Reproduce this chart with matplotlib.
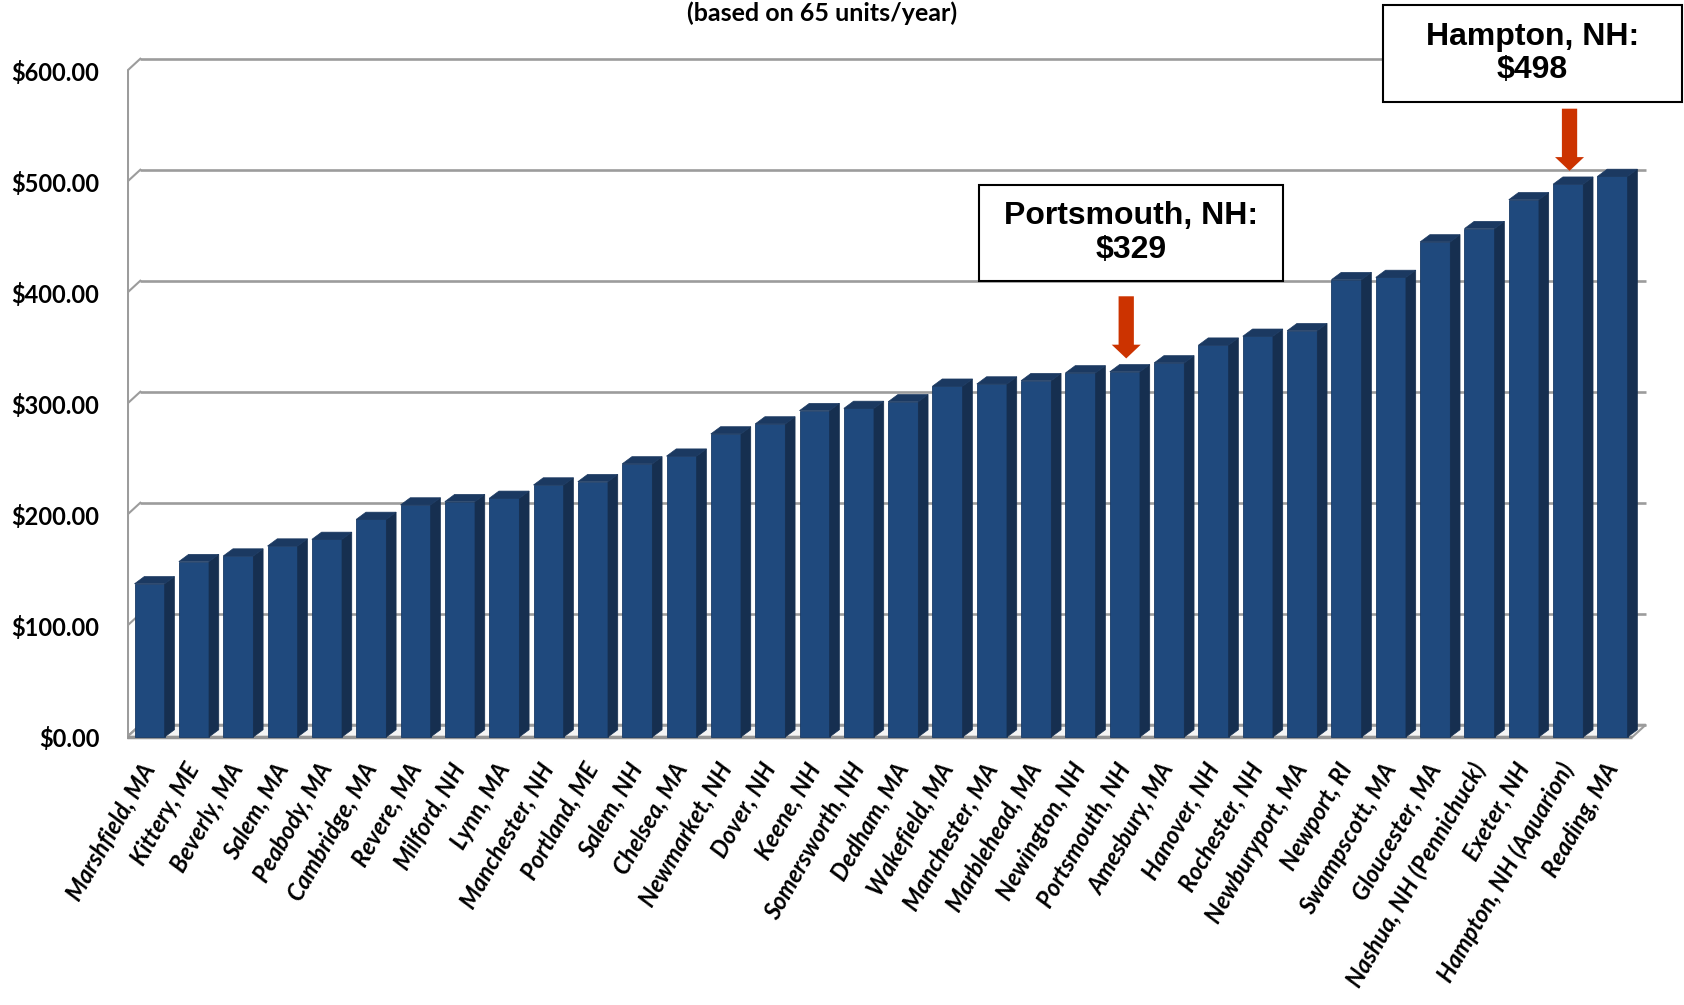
import matplotlib
matplotlib.use('Agg')
import matplotlib.pyplot as plt
from matplotlib.patches import Polygon, Rectangle

plt.rcParams['font.family'] = ['Lato', 'DejaVu Sans']

cities = ['Marshfield, MA', 'Kittery, ME', 'Beverly, MA', 'Salem, MA', 'Peabody, MA',
          'Cambridge, MA', 'Revere, MA', 'Milford, NH', 'Lynn, MA', 'Manchester, NH',
          'Portland, ME', 'Salem, NH', 'Chelsea, MA', 'Newmarket, NH', 'Dover, NH',
          'Keene, NH', 'Somersworth, NH', 'Dedham, MA', 'Wakefield, MA', 'Manchester, MA',
          'Marblehead, MA', 'Newington, NH', 'Portsmouth, NH', 'Amesbury, MA', 'Hanover, NH',
          'Rochester, NH', 'Newburyport, MA', 'Newport, RI', 'Swampscott, MA', 'Gloucester, MA',
          'Nashua, NH (Pennichuck)', 'Exeter, NH', 'Hampton, NH (Aquarion)', 'Reading, MA']
costs = [138, 158, 163, 172, 178, 196, 209, 212, 215, 227,
         230, 246, 253, 273, 282, 294, 296, 302, 316, 318,
         321, 328, 329, 337, 353, 361, 366, 412, 414, 446,
         458, 484, 498, 505]
yticks = [0, 100, 200, 300, 400, 500, 600]
ytick_labels = ['$0.00', '$100.00', '$200.00', '$300.00', '$400.00', '$500.00', '$600.00']
title = '(based on 65 units/year)'
callout_cities = ['Portsmouth, NH', 'Hampton, NH (Aquarion)']
callout_texts = ['Portsmouth, NH:\n$329', 'Hampton, NH:\n$498']

W, H = 1684, 1005
fig = plt.figure(figsize=(W / 100, H / 100), dpi=100)
ax = fig.add_axes([127 / W, 1 - 742.5 / H, (1648 - 127) / W, (742.5 - 54.3) / H])
n = len(cities)
ax.set_xlim(-0.51, n - 1 + 0.80)
ax.set_ylim(-5, 615)
for s in ax.spines.values():
    s.set_visible(False)

DX, DY = 0.30, 11
x_left = -0.51
x_right = n - 1 + 0.45
grid_c = '#9c9c9c'

# floor
floor = Polygon([(x_left, 0), (x_right, 0), (x_right + DX, DY), (x_left + DX, DY)], closed=True,
                facecolor='#f4f4f4', edgecolor=grid_c, lw=1.5, zorder=1)
ax.add_patch(floor)
ax.plot([x_left, x_right], [0, 0], color='#949494', lw=2.5, zorder=1.2, solid_capstyle='butt')

# back wall gridlines
for t in yticks:
    ax.plot([x_left + DX, x_right + DX], [t + DY, t + DY], color=grid_c, lw=1.9, zorder=1,
            solid_capstyle='butt')
    ax.plot([x_left, x_left + DX], [t, t + DY], color=grid_c, lw=1.5, zorder=1)
ax.plot([x_left, x_left], [0, 600], color=grid_c, lw=2.2, zorder=1.1)

# 3D-look bars
front_c = '#1f497d'
side_c = '#162f50'
top_c = '#1b3961'
hw = 0.34
sdx, sdy = 0.22, 6.5
for i, v in enumerate(costs):
    ax.add_patch(Rectangle((i - hw, 0), 2 * hw, v, facecolor=front_c, edgecolor='#183a66',
                           lw=0.6, zorder=3))
    ax.add_patch(Polygon([(i + hw, 0), (i + hw, v), (i + hw + sdx, v + sdy), (i + hw + sdx, sdy)],
                         closed=True, facecolor=side_c, edgecolor=side_c, lw=0.5, zorder=3))
    ax.add_patch(Polygon([(i - hw, v), (i + hw, v), (i + hw + sdx, v + sdy), (i - hw + sdx, v + sdy)],
                         closed=True, facecolor=top_c, edgecolor=top_c, lw=0.5, zorder=3))

ax.set_yticks(yticks, ytick_labels)
ax.tick_params(axis='y', length=0, pad=20, labelsize=17)
for lab in ax.get_yticklabels():
    lab.set_fontweight('bold')

ax.set_xticks(range(n), cities, rotation=60, ha='right', va='center', rotation_mode='anchor')
ax.tick_params(axis='x', length=0, pad=16, labelsize=17)
for lab in ax.get_xticklabels():
    lab.set_fontweight('bold')
    lab.set_fontstyle('italic')

# arrows
for c in callout_cities:
    i = cities.index(c)
    v = costs[i]
    ax.annotate('', xy=(i + 0.03, v + 12), xytext=(i + 0.03, v + 68),
                arrowprops=dict(arrowstyle='simple,head_width=0.95,head_length=0.45,tail_width=0.5',
                                fc='#cc3300', ec='none', mutation_scale=22, shrinkA=0, shrinkB=0),
                zorder=5)

# callout boxes (figure pixel geometry)
boxes = [(979, 185, 1283, 281), (1383, 5, 1682, 102)]
for (x0, y0, x1, y1), txt in zip(boxes, callout_texts):
    fig.patches.append(Rectangle((x0 / W, 1 - y1 / H), (x1 - x0) / W, (y1 - y0) / H,
                                 transform=fig.transFigure, facecolor='white', edgecolor='black',
                                 lw=1.5, zorder=5))
    fig.text((x0 + x1) / 2 / W, 1 - (y0 + y1) / 2 / H, txt, ha='center', va='center',
             family=['Liberation Sans', 'DejaVu Sans'], fontweight='bold', fontsize=23,
             linespacing=1.15, zorder=6)

fig.text(822 / W, 1 - 1 / H, title, ha='center', va='top', fontsize=18, fontweight='bold')

fig.savefig('out.png', dpi=100)
